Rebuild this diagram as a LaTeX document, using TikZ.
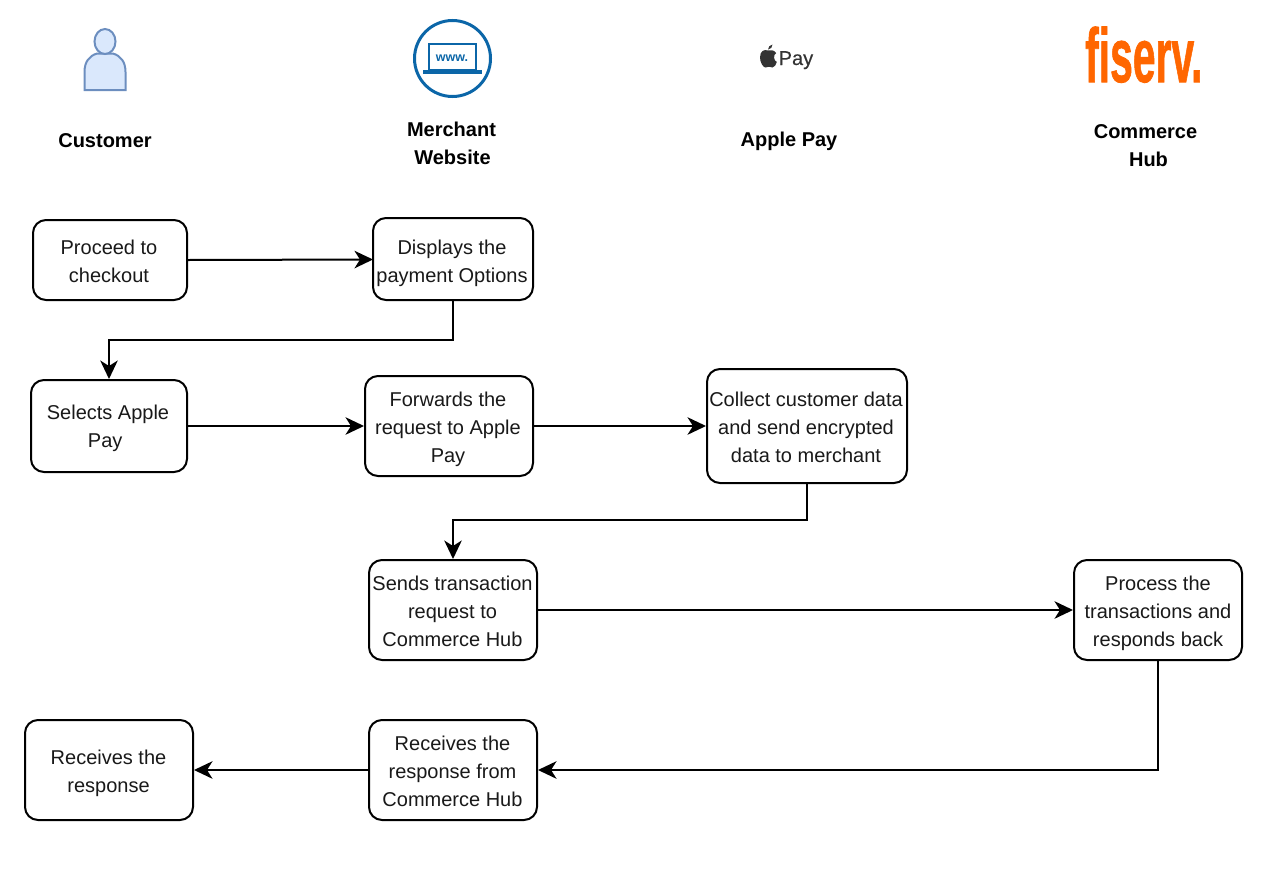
\documentclass[tikz,border=0pt]{standalone}
\usepackage{fontspec}
\setmainfont{Liberation Sans}
\newfontfamily\payfont[FakeBold=0.4]{Liberation Sans}
\newfontfamily\fiservfont[FakeBold=1.2]{Liberation Sans Bold}
\usetikzlibrary{arrows.meta}
\definecolor{fiservorange}{HTML}{FF6600}
\definecolor{webblue}{HTML}{0B66A8}
\definecolor{userfill}{HTML}{DAE8FC}
\definecolor{userline}{HTML}{6C8EBF}
\definecolor{applegray}{HTML}{333333}
\tikzset{
  x=1pt,y=-1pt,
  stepbox/.style={draw=black,line width=2pt,rounded corners=13pt,fill=white,inner sep=0pt,
    font=\fontsize{20}{28}\selectfont,text=black!90},
  heading/.style={align=center,inner sep=0pt,font=\fontsize{20}{28}\selectfont\bfseries},
  flow/.style={draw=black,line width=2pt,-{Stealth[length=18.5pt,width=17.5pt,inset=5.5pt]}},
}
% name, text, x0, x1, y0, y1, text shift right, text shift down
\newcommand{\boxat}[8]{\node[stepbox,minimum width=#4 pt - #3 pt,minimum height=#6 pt - #5 pt] (#1) at ({(#3+#4)/2},{(#5+#6)/2})
  {\kern #7pt\raisebox{\dimexpr -#8pt - 5pt\relax}[0pt][0pt]{\begin{tabular}[c]{@{}c@{}}#2\end{tabular}}\kern -#7pt};}
\begin{document}
\begin{tikzpicture}
\useasboundingbox (0,0) rectangle (1273,886);
% customer icon
\draw[userline,fill=userfill,line width=2pt] (84.5,90) -- (84.5,72) .. controls (84.5,62) and (89,56) .. (97,53.5) -- (113,53.5) .. controls (121,56) and (125.5,62) .. (125.5,72) -- (125.5,90) -- cycle;
\draw[userline,fill=userfill,line width=2pt] (105,41.5) ellipse (10.5 and 12.5);
% website icon
\draw[webblue,line width=3pt] (452.5,58.5) circle (38);
\draw[webblue,line width=2pt,fill=white] (429,44) rectangle (476,70);
\fill[webblue] (423,70) rectangle (482,73.5);
\node[inner sep=0pt,text=webblue,font=\fontsize{12.5}{13}\selectfont\bfseries] (www) at (452,58) {www.};
% apple pay logo
\fill[applegray] (768,50.5) .. controls (764,49) and (760,51) .. (760,57.5) .. controls (760,62) and (763,67.5) .. (765.5,67.5) .. controls (767,67.5) and (767.5,66.7) .. (769,66.7) .. controls (770.5,66.7) and (771,67.5) .. (772.5,67.5) .. controls (774.5,67.5) and (776,64.5) .. (776.8,62) .. controls (773.5,60.5) and (773,55) .. (776.2,53) .. controls (774,50) and (771,49.8) .. (768,50.5) -- cycle;
\fill[applegray] (768,49.5) .. controls (768,47) and (770,45) .. (772.5,44.5) .. controls (772.7,47) and (770.5,49.5) .. (768,49.5) -- cycle;
\node[inner sep=0pt,anchor=base west,text=applegray,font=\payfont\fontsize{20}{20}\selectfont] (paytext) at (778.5,65) {Pay};
% fiserv logo
\node[inner sep=0pt,anchor=south west,text=fiservorange,xscale=0.545,yscale=1.02,font=\fiservfont\fontsize{75}{75}\selectfont] (fiserv) at (1085,83) {fiserv.};
% headings
\node[heading] (hcustomer) at (105,141) {Customer};
\node[heading] (hmerchant) at (451.5,143) {Merchant\\\hspace*{2pt}Website};
\node[heading] (happle) at (789,141.5) {Apple Pay};
\node[heading] (hhub) at (1145.5,145.5) {Commerce\\\hspace*{6pt}Hub};
% steps
\boxat{proceed}{Proceed to\\checkout}{33}{187}{220}{300}{-1}{3}
\boxat{displays}{Displays the\\payment Options}{373}{533}{218}{300}{-1}{4}
\boxat{selects}{Selects Apple\\Pay\ \ }{31}{187}{380}{472}{-1}{2}
\boxat{forwards}{Forwards the\\request to Apple\\Pay}{365}{533}{376}{476}{-1}{3}
\boxat{collect}{Collect customer data\\and send encrypted\\data to merchant}{707}{907}{369}{483}{-1}{3}
\boxat{sends}{Sends transaction\\request to\\Commerce Hub}{369}{537}{560}{660}{-0.5}{3}
\boxat{process}{Process the\\transactions and\\responds back}{1074}{1242}{560}{660}{0}{3}
\boxat{recfrom}{Receives the\\response from\\Commerce Hub}{369}{537}{720}{820}{-0.5}{3}
\boxat{recresp}{Receives the\\response}{25}{193}{720}{820}{-0.5}{3}
% connectors
\draw[flow] (proceed.east) -- (373,259.5);
\draw[flow] (displays.south) |- (280,340) -| (selects.north);
\draw[flow] (selects.east) -- (forwards.west |- selects.east);
\draw[flow] (forwards.east) -- (collect.west |- forwards.east);
\draw[flow] (collect.south) |- (630,520) -| (sends.north);
\draw[flow] (sends.east) -- (process.west);
\draw[flow] (process.south) |- (recfrom.east);
\draw[flow] (recfrom.west) -- (recresp.east);
\end{tikzpicture}
\end{document}
